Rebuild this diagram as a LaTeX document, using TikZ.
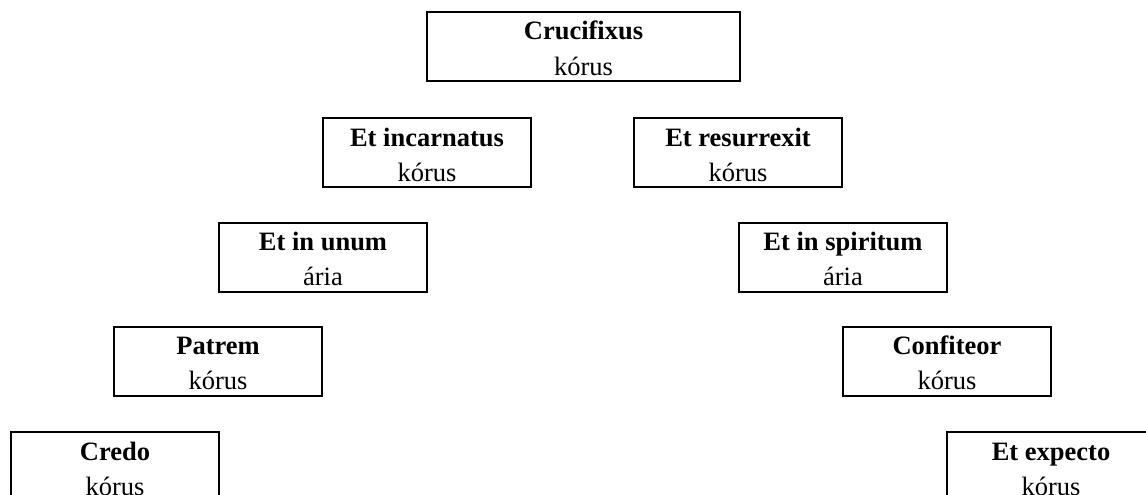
\documentclass[tikz,border=0pt]{standalone}
\usepackage{fontspec}
\setmainfont{Liberation Serif}
\begin{document}
\begin{tikzpicture}[x=1pt,y=-1pt,
  movbox/.style={draw=black,line width=2pt,rectangle,inner sep=0pt,
    minimum width=#1,minimum height=69pt},
  movbox/.default=208pt,
  title/.style={anchor=base,font=\fontsize{26.5}{32}\selectfont\bfseries,inner sep=0pt},
  kind/.style={anchor=base,font=\fontsize{26.5}{32}\selectfont,inner sep=0pt}]
\useasboundingbox (0,0) rectangle (1146,495);
% a movement box: #1 name, #2 centre, #3 width, #4 title, #5 kind
\newcommand\movement[5]{%
  \node[movbox=#3] (#1) at #2 {};
  \node[title] (#1-t) at ([yshift=-29pt]#1.north) {#4};
  \node[kind] (#1-k) at ([yshift=-64pt]#1.north) {#5};
}
\movement{cruc}{(583.5,46.5)}{313pt}{Crucifixus}{kórus}
\movement{incarn}{(427,152.5)}{208pt}{Et incarnatus}{kórus}
\movement{resurr}{(738,152.5)}{208pt}{Et resurrexit}{kórus}
\movement{unum}{(323,257)}{208pt}{Et in unum}{ária}
\movement{spirit}{(843,257)}{208pt}{Et in spiritum}{ária}
\movement{patrem}{(218,361)}{208pt}{Patrem}{kórus}
\movement{confit}{(947,361)}{208pt}{Confiteor}{kórus}
\movement{credo}{(115,466.5)}{208pt}{Credo}{kórus}
\movement{expect}{(1051,466.5)}{208pt}{Et expecto}{kórus}
\end{tikzpicture}
\end{document}
